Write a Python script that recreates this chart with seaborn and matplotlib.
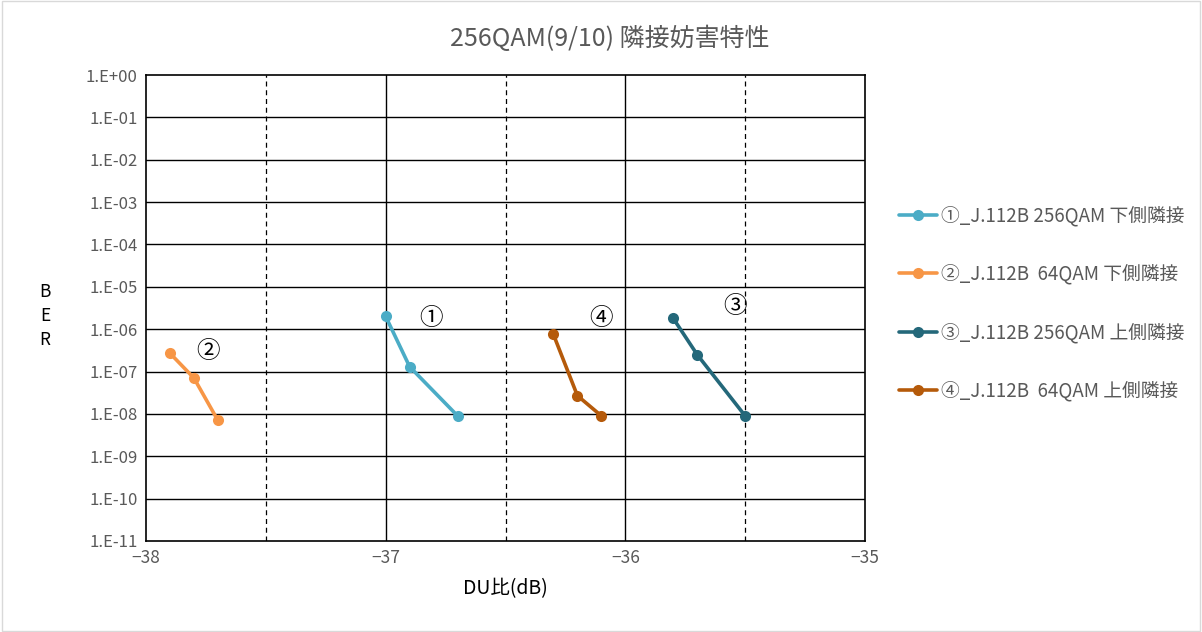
import matplotlib
matplotlib.use("Agg")
import matplotlib.pyplot as plt
import matplotlib.ticker as mticker
import seaborn as sns
import pandas as pd
import numpy as np

# ---- data ----
series_names = ["①_J.112B 256QAM 下側隣接", "②_J.112B  64QAM 下側隣接",
                "③_J.112B 256QAM 上側隣接", "④_J.112B  64QAM 上側隣接"]
du_1 = [-37.0, -36.9, -36.7]
ber_1 = [2.0e-6, 1.3e-7, 9.0e-9]
du_2 = [-37.9, -37.8, -37.7]
ber_2 = [2.7e-7, 7.0e-8, 7.0e-9]
du_3 = [-35.8, -35.7, -35.5]
ber_3 = [1.8e-6, 2.5e-7, 9.0e-9]
du_4 = [-36.3, -36.2, -36.1]
ber_4 = [7.5e-7, 2.7e-8, 9.0e-9]
colors = ["#4bacc6", "#f79646", "#24687a", "#b55a0a"]
x_ticks = [-38, -37, -36, -35]
y_tick_labels = ["1.E+00", "1.E-01", "1.E-02", "1.E-03", "1.E-04", "1.E-05",
                 "1.E-06", "1.E-07", "1.E-08", "1.E-09", "1.E-10", "1.E-11"]
annot_text = ["①", "②", "③", "④"]
annot_x = [-36.81, -37.74, -35.54, -36.10]
annot_y = [1.75e-6, 2.9e-7, 3.5e-6, 1.75e-6]

rows = []
for name, xs, ys in zip(series_names, [du_1, du_2, du_3, du_4], [ber_1, ber_2, ber_3, ber_4]):
    for x, y in zip(xs, ys):
        rows.append({"series": name, "DU": x, "BER": y})
df = pd.DataFrame(rows)

sns.set_style("white")
plt.rcParams["font.family"] = ["Noto Sans CJK JP", "DejaVu Sans"]
plt.rcParams["axes.unicode_minus"] = True
gray = "#595959"

fig = plt.figure(figsize=(12.02, 6.32), dpi=100)
ax = fig.add_axes([0.1215, 0.144, 0.5981, 0.7373])

sns.lineplot(data=df, x="DU", y="BER", hue="series", hue_order=series_names,
             palette=colors, marker="o", markersize=8, markeredgewidth=0,
             linewidth=2.6, ax=ax, legend=True, sort=False)

ax.set_yscale("log")
ax.set_ylim(1e-11, 1.0)
ax.set_xlim(-38, -35)
ax.set_yticks([10.0 ** (-i) for i in range(12)])
ax.set_yticklabels(y_tick_labels)
ax.yaxis.set_minor_locator(mticker.NullLocator())
ax.set_xticks(x_ticks)
ax.set_xticklabels([str(v).replace("-", "\u2212") for v in x_ticks])
ax.tick_params(axis="both", labelsize=12, colors=gray, length=0, pad=6)
ax.tick_params(axis="y", labelcolor=gray)
ax.tick_params(axis="x", labelsize=12.5)

# grid
for v in np.arange(-37.5, -35.0, 1.0):
    ax.axvline(v, color="black", lw=0.9, ls=(0, (4, 3)), zorder=0)
for v in [-37, -36]:
    ax.axvline(v, color="black", lw=1.0, zorder=0)
for i in range(1, 11):
    ax.axhline(10.0 ** (-i), color="black", lw=1.0, zorder=0)
for sp in ax.spines.values():
    sp.set_color("black")
    sp.set_linewidth(1.2)

for t, x, y in zip(annot_text, annot_x, annot_y):
    ax.text(x, y, t, fontsize=17, ha="center", va="center", color="black",
            family=["Noto Sans CJK JP", "DejaVu Sans"])

ax.set_xlabel("DU比(dB)", fontsize=14, color="black", labelpad=8)
ax.set_ylabel("")
fig.text(0.0375, 0.5, "B\nE\nR", fontsize=12.5, color="black", ha="center",
         va="center", linespacing=1.4)
fig.text(0.5075, 0.938, "256QAM(9/10) 隣接妨害特性", fontsize=18, color=gray,
         ha="center", va="center")

ax.get_legend().remove()
handles, labels = ax.get_legend_handles_labels()
leg = fig.legend(handles, labels, loc="center left", bbox_to_anchor=(0.742, 0.52),
                 frameon=False, fontsize=13.5, labelspacing=2.0, handlelength=2.0,
                 handletextpad=0.2, borderaxespad=0)
for txt in leg.get_texts():
    txt.set_color(gray)

# outer border
fig.patches.append(plt.Rectangle((0.002, 0.002), 0.996, 0.996, transform=fig.transFigure,
                                 fill=False, edgecolor="#d9d9d9", lw=1))

fig.savefig("out.png", dpi=100)
